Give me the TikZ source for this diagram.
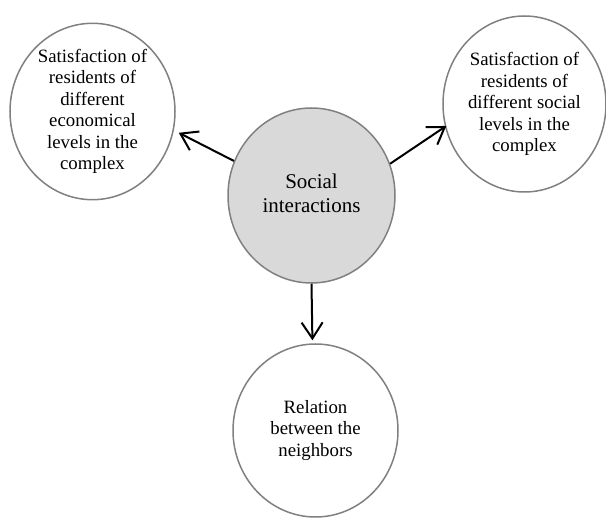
\documentclass[tikz,border=0pt]{standalone}
\usepackage{fontspec}
\setmainfont{Liberation Serif}
\usetikzlibrary{shapes.geometric,arrows.meta}
\definecolor{rimgray}{HTML}{808080}
\definecolor{hubfill}{HTML}{D9D9D9}
\tikzset{
  bubble/.style={ellipse, draw=rimgray, line width=1.5pt, fill=white, inner sep=0pt,
    align=center, font=\fontsize{18.8}{21.5}\selectfont},
  hub/.style={bubble, fill=hubfill, font=\fontsize{21}{24}\selectfont},
  link/.style={-{Straight Barb[length=16pt,width=21pt]}, line width=2pt, black}
}
\begin{document}
\begin{tikzpicture}[x=1pt,y=-1pt]
\useasboundingbox (0,0) rectangle (606,518);
\node[hub, minimum width=167pt, minimum height=175pt] (c) at (311.5,195.5)
  {\raisebox{8pt}{\begin{tabular}{@{}c@{}}Social\\interactions\end{tabular}}};
\node[bubble, minimum width=165pt, minimum height=171pt] (l) at (92.5,111.5)
  {Satisfaction of\\residents of\\different\\economical\\levels in the\\complex};
\node[bubble, minimum width=163pt, minimum height=176pt] (r) at (524.5,104)
  {Satisfaction of\\residents of\\different social\\levels in the\\complex};
\node[bubble, minimum width=165pt, minimum height=173pt] (b) at (315.5,430.5)
  {Relation\\between the\\neighbors};
\draw[link, shorten >=5.5pt] (c.156.5) -- (l.-13.2);
\draw[link, shorten >=-1.5pt] (c.22.9) -- (r.196.8);
\draw[link, shorten >=3pt] (c.-90) -- (b.92);
\end{tikzpicture}
\end{document}
